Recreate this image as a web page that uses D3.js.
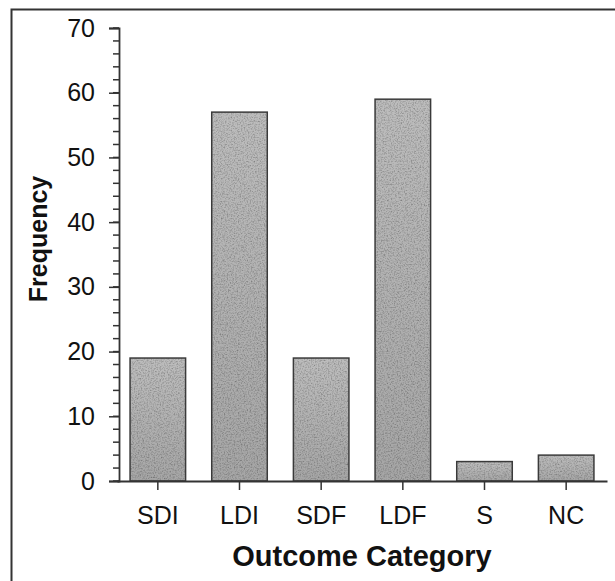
<!DOCTYPE html>
<html>
<head>
<meta http-equiv="Content-Type" content="text/html; charset=UTF-8">
<script src="https://cdn.jsdelivr.net/npm/d3@7"></script>
<style>
body { margin: 0; background: #fff; }
text { font-family: "Liberation Sans", Arial, sans-serif; fill: #111; }
</style>
</head>
<body>
<div class="container"></div>
<script>

var categories = ["SDI", "LDI", "SDF", "LDF", "S", "NC"];
var frequency = [19, 57, 19, 59, 3, 4];
var yTicks = [0, 10, 20, 30, 40, 50, 60, 70];
var yMinorTicks = d3.range(0, 71, 2);

var width = 615;
var height = 581;

var svg = d3.select(".container")
            .append("svg")
                .attr("width", width)
                .attr("height", height);

// frame: only top and left edges are visible in the scan
svg.append("path")
   .attr("d", "M11.5,581 V9.5 H615")
   .style("fill", "none")
   .style("stroke", "#333")
   .style("stroke-width", 2);

var x = d3.scaleBand()
          .domain(categories)
          .range([117, 607])
          .paddingInner(0.32)
          .paddingOuter(0.16);

var y = d3.scaleLinear()
          .domain([0, 70])
          .range([481, 28]);

// grainy grey like the printed bars
var defs = svg.append("defs");
var grad = defs.append("linearGradient")
               .attr("id", "barGrad")
               .attr("x1", 0).attr("y1", 0).attr("x2", 0).attr("y2", 1);
grad.append("stop").attr("offset", "0%").attr("stop-color", "#bdbdbd");
grad.append("stop").attr("offset", "100%").attr("stop-color", "#a6a6a6");

var filter = defs.append("filter").attr("id", "grain")
                 .attr("x", 0).attr("y", 0).attr("width", 1).attr("height", 1);
filter.append("feTurbulence")
      .attr("type", "fractalNoise")
      .attr("baseFrequency", 0.7)
      .attr("numOctaves", 3)
      .attr("seed", 5)
      .attr("result", "noise");
filter.append("feColorMatrix")
      .attr("in", "noise")
      .attr("type", "matrix")
      .attr("values", "1.1 0 0 0 0.35  1.1 0 0 0 0.35  1.1 0 0 0 0.35  0 0 0 0 1")
      .attr("result", "grey");
filter.append("feBlend")
      .attr("in", "SourceGraphic")
      .attr("in2", "grey")
      .attr("mode", "multiply")
      .attr("result", "mixed");
filter.append("feComposite")
      .attr("in", "mixed")
      .attr("in2", "SourceGraphic")
      .attr("operator", "in");

var data = categories.map(function(c, i) { return { cat: c, value: frequency[i] }; });

var bars = svg.append("g");
bars.selectAll("rect.fill")
    .data(data)
    .enter().append("rect")
        .attr("class", "fill")
        .attr("x", function(d) { return x(d.cat); })
        .attr("y", function(d) { return y(d.value); })
        .attr("width", x.bandwidth())
        .attr("height", function(d) { return y(0) - y(d.value); })
        .style("fill", "url(#barGrad)")
        .style("filter", "url(#grain)");
bars.selectAll("rect.edge")
    .data(data)
    .enter().append("rect")
        .attr("class", "edge")
        .attr("x", function(d) { return x(d.cat); })
        .attr("y", function(d) { return y(d.value); })
        .attr("width", x.bandwidth())
        .attr("height", function(d) { return y(0) - y(d.value); })
        .style("fill", "none")
        .style("stroke", "#3a3a3a")
        .style("stroke-width", 1.5);

// y axis: minor ticks every 2, major every 10
var yAxis = svg.append("g").attr("transform", "translate(119,0)");
yAxis.selectAll(".minor")
     .data(yMinorTicks)
     .enter().append("line")
         .attr("x1", -6).attr("x2", 0)
         .attr("y1", function(d) { return y(d); })
         .attr("y2", function(d) { return y(d); })
         .style("stroke", "#333")
         .style("stroke-width", 1.5);
yAxis.call(d3.axisLeft(y).tickValues(yTicks).tickSize(10).tickPadding(14))
     .call(function(g) {
         g.select(".domain").style("stroke", "#333").style("stroke-width", 1.8);
         g.selectAll(".tick line").style("stroke", "#333").style("stroke-width", 1.5);
         g.selectAll(".tick text")
          .style("font-size", "25px")
          .style("font-family", "'Liberation Sans', Arial, sans-serif")
          .style("fill", "#111");
     });

// x axis
var xAxis = svg.append("g").attr("transform", "translate(0,481)");
xAxis.call(d3.axisBottom(x).tickSize(9).tickPadding(16).tickSizeOuter(0))
     .call(function(g) {
         g.select(".domain").style("stroke", "#333").style("stroke-width", 1.8);
         g.selectAll(".tick line").style("stroke", "#333").style("stroke-width", 1.5);
         g.selectAll(".tick text")
          .style("font-size", "25px")
          .style("font-family", "'Liberation Sans', Arial, sans-serif")
          .style("fill", "#111");
     });

// axis titles
svg.append("text")
   .attr("x", 362)
   .attr("y", 566)
   .attr("text-anchor", "middle")
   .style("font-size", "29px")
   .style("font-weight", "bold")
   .text("Outcome Category");

svg.append("text")
   .attr("transform", "translate(47,239) rotate(-90)")
   .attr("text-anchor", "middle")
   .style("font-size", "25px")
   .style("font-weight", "bold")
   .text("Frequency");

</script>
</body>
</html>
